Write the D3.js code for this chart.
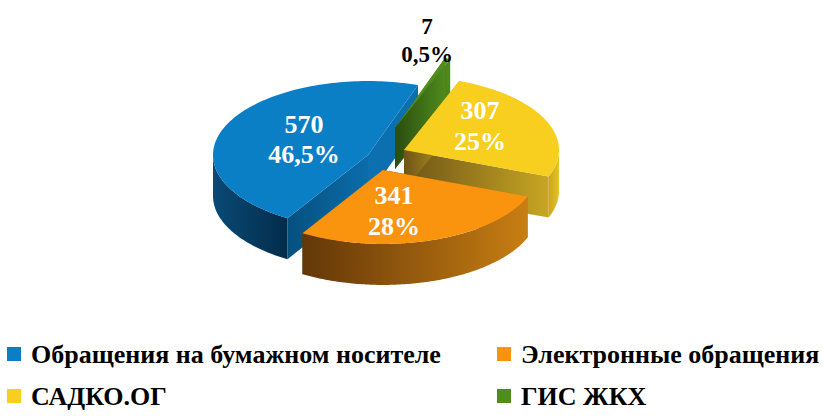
<!DOCTYPE html>
<html>
<head>
<meta charset="utf-8">
<script src="https://cdn.jsdelivr.net/npm/d3@7"></script>
<style>
  html, body { margin: 0; padding: 0; background: #fff; }
  text { font-family: "Liberation Serif", serif; font-weight: bold; }
</style>
</head>
<body>
<script>
const categories = ['Обращения на бумажном носителе', 'Электронные обращения', 'САДКО.ОГ', 'ГИС ЖКХ']
const values = [570, 341, 307, 7]
const shares = ['46,5%', '28%', '25%', '0,5%']
const colors = ['#0a7fc6', '#fa940f', '#f8cf1f', '#4f8e1c']
// outer wall gradients, left end then right end
const wallColors = [['#0a4a76', '#032c4a'], ['#633708', '#c87e12'], ['#c9a520', '#e6c326'], ['#2a4d10', '#4f8a1c']]
// cut face gradients
const cutColors = [['#05507f', '#0a6dab'], ['#633708', '#c87e12'], ['#6e5418', '#c8a622'], ['#2a4d10', '#4f8a1c']]
// clockwise from the blue slice, the picture does not follow legend order
const pieOrder = [0, 3, 2, 1]
const drawOrder = [0, 3, 2, 1]

const width = 823, height = 416
const radius = 155, squash = 0.477, depth = 41
const startAngle = 211.3 * Math.PI / 180

const svg = d3.select('body').append('svg').attr('width', width).attr('height', height)
const defs = svg.append('defs')

const pie = d3.pie()
  .sort((a, b) => pieOrder.indexOf(a) - pieOrder.indexOf(b))
  .value(i => values[i])
  .startAngle(startAngle)
  .endAngle(startAngle + 2 * Math.PI)

const arcs = pie(d3.range(values.length))

// where each slice's point ended up after the explode
const centers = [[368, 155], [383, 170], [404, 150], [395, 128]]
const labelPos = [[304, 133, 163], [394, 204, 235], [480, 119, 150], [427, 34, 62]]
const labelSize = [26, 26, 26, 23]

const project = (c, a, r, z) => [
  c[0] + r * Math.sin(a),
  c[1] - r * Math.cos(a) * squash + z
]
const line = d3.line()

const arcAngles = d => d3.range(0, 121).map(t => d.startAngle + (d.endAngle - d.startAngle) * t / 120)

const gradient = (id, pair) => {
  const g = defs.append('linearGradient').attr('id', id)
  g.append('stop').attr('offset', 0).attr('stop-color', pair[0])
  g.append('stop').attr('offset', 1).attr('stop-color', pair[1])
  return `url(#${id})`
}

const pieGroup = svg.append('g')

drawOrder.forEach(i => {
  const d = arcs.find(a => a.data === i)
  const c = centers[i]
  const g = pieGroup.append('g')
  const wallFill = gradient(`wall${i}`, wallColors[i])
  const cutFill = gradient(`cut${i}`, cutColors[i])
  const angles = arcAngles(d)
  const top = angles.map(a => project(c, a, radius, 0))

  // cut faces, the green slice hides most of the blue far one
  const first = top[0], last = top[top.length - 1]
  g.append('path')
    .attr('d', line([c, last, [last[0], last[1] + depth], [c[0], c[1] + depth]]) + 'Z')
    .attr('fill', i === 0 ? '#0c6fb0' : cutFill)
  g.append('path')
    .attr('d', line([c, first, [first[0], first[1] + depth], [c[0], c[1] + depth]]) + 'Z')
    .attr('fill', cutFill)

  // outer wall, only the part of the arc that faces the viewer
  const front = angles.filter(a => Math.cos(a) <= 0.02)
  if (front.length > 1) {
    const upper = front.map(a => project(c, a, radius, 0))
    const lower = front.map(a => project(c, a, radius, depth)).reverse()
    g.append('path')
      .attr('d', line(upper.concat(lower)) + 'Z')
      .attr('fill', wallFill)
  }

  // top face
  g.append('path')
    .attr('d', line([c].concat(top)) + 'Z')
    .attr('fill', colors[i])
})

const labels = svg.append('g').attr('text-anchor', 'middle')
values.forEach((v, i) => {
  const color = i === 3 ? '#000' : '#fff'
  labels.append('text').attr('x', labelPos[i][0]).attr('y', labelPos[i][1])
    .attr('font-size', labelSize[i]).attr('fill', color).text(v)
  labels.append('text').attr('x', labelPos[i][0]).attr('y', labelPos[i][2])
    .attr('font-size', labelSize[i]).attr('fill', color).text(shares[i])
})

const legendX = d3.scaleOrdinal().domain([0, 1]).range([7, 497])
const legendY = d3.scaleOrdinal().domain([0, 1]).range([347, 389])
const legend = svg.append('g')
categories.forEach((name, i) => {
  const col = i % 2, row = Math.floor(i / 2)
  legend.append('rect')
    .attr('x', legendX(col)).attr('y', legendY(row))
    .attr('width', 14).attr('height', 14)
    .attr('fill', colors[i])
  legend.append('text')
    .attr('x', legendX(col) + 24).attr('y', legendY(row) + 16)
    .attr('font-size', 26).attr('fill', '#000')
    .text(name)
})
</script>
</body>
</html>
